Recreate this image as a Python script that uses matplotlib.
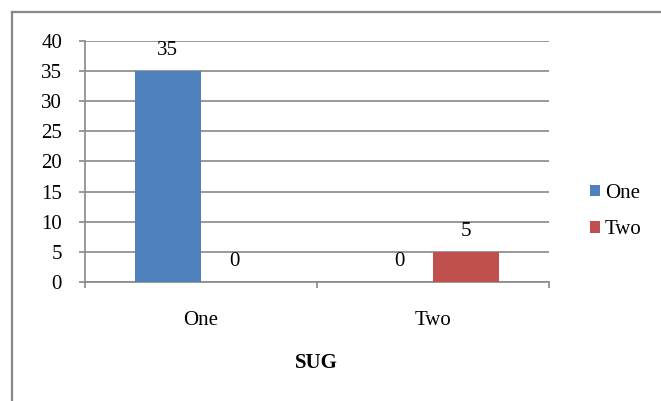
import numpy as np
import matplotlib.pyplot as plt
from matplotlib.lines import Line2D

plt.rcParams['font.family'] = ['Liberation Serif', 'DejaVu Serif']
plt.rcParams['font.size'] = 15

categories = ['One', 'Two']
series_names = ['One', 'Two']
series_values = [[35, 0], [0, 5]]
colors = ['#4F81BD', '#C0504D']
grid_color = '#888888'

fig = plt.figure(figsize=(6.61, 4.01), dpi=100)
ax = fig.add_axes([0.1286, 0.2968, 0.702, 0.601])

# excel-like clustered bars, gap width 150%
x = np.arange(len(categories))
width = 1 / 3.5
offsets = [-width / 2, width / 2]
for name, vals, col, off in zip(series_names, series_values, colors, offsets):
    bars = ax.bar(x + off, vals, width, color=col, label=name, zorder=3)
    for b, v in zip(bars, vals):
        ax.annotate(str(v), (b.get_x() + b.get_width() / 2, v),
                    xytext=(0, 8), textcoords='offset points',
                    ha='center', va='bottom', fontsize=15)

ax.set_xlim(-0.5, len(categories) - 0.5)
ax.set_ylim(0, 40)
ax.set_yticks(np.arange(0, 41, 5))
ax.yaxis.grid(True, color=grid_color, linewidth=1.2, zorder=0)
ax.set_axisbelow(True)

# category boundaries get the tick marks, labels sit in between
ax.set_xticks(np.arange(-0.5, len(categories), 1.0))
ax.set_xticklabels([''] * (len(categories) + 1))
ax.set_xticks(x, minor=True)
ax.set_xticklabels(categories, minor=True)
ax.tick_params(axis='x', which='major', length=4.5, width=1.2, color=grid_color)
ax.tick_params(axis='x', which='minor', length=0, pad=21, labelsize=15)
ax.tick_params(axis='y', length=4.5, width=1.2, color=grid_color, pad=12, labelsize=15)

for s in ['top', 'right']:
    ax.spines[s].set_visible(False)
for s in ['left', 'bottom']:
    ax.spines[s].set_color(grid_color)
    ax.spines[s].set_linewidth(1.2)

fig.text(0.478, 0.094, 'SUG', ha='center', va='center', fontsize=15, fontweight='bold')

ax.legend(loc='center left', bbox_to_anchor=(0.864, 0.472), bbox_transform=fig.transFigure,
          frameon=False, handlelength=0.48, handleheight=0.48, handletextpad=0.25,
          labelspacing=0.83, fontsize=15)

# outer chart border (top and left edges)
fig.add_artist(Line2D([0.018, 0.018], [0, 0.971], transform=fig.transFigure,
                      color='#888888', linewidth=1.6))
fig.add_artist(Line2D([0.018, 1], [0.971, 0.971], transform=fig.transFigure,
                      color='#888888', linewidth=1.6))

fig.savefig('out.png', dpi=100)
